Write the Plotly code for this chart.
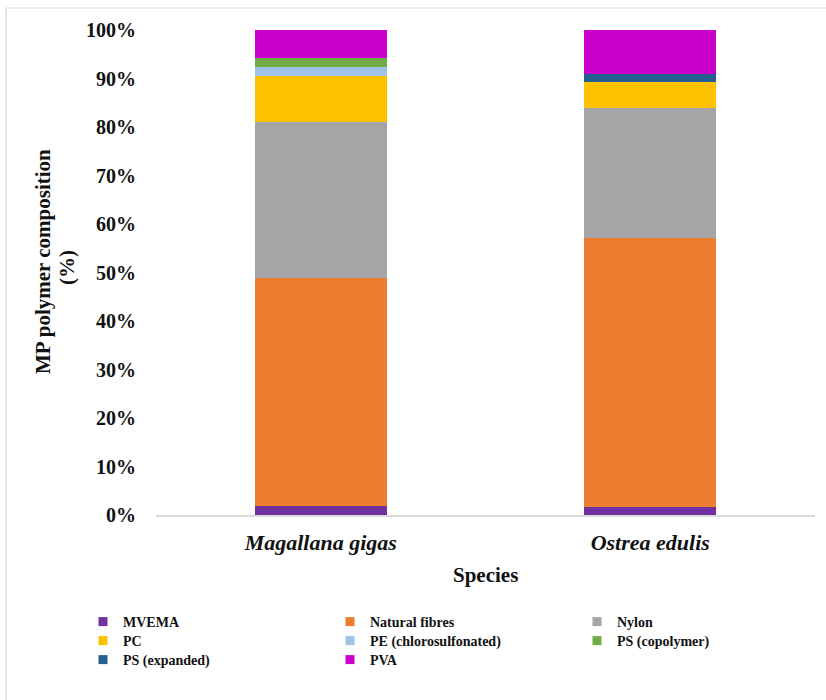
import plotly.graph_objects as go

# Polymer composition (%) of microplastics found in each oyster species
species = ["Magallana gigas", "Ostrea edulis"]
polymers = ["MVEMA", "Natural fibres", "Nylon", "PC", "PE (chlorosulfonated)",
            "PS (copolymer)", "PS (expanded)", "PVA"]
mvema = [1.8, 1.7]
natural_fibres = [47.1, 55.4]
nylon = [32.2, 26.8]
pc = [9.4, 5.3]
pe_chloro = [1.9, 0.0]
ps_copolymer = [1.8, 0.0]
ps_expanded = [0.0, 1.8]
pva = [5.8, 9.0]
y_ticks = list(range(0, 101, 10))

series = [mvema, natural_fibres, nylon, pc, pe_chloro, ps_copolymer, ps_expanded, pva]
colors = ["#7030A0", "#ED7D31", "#A5A5A5", "#FFC000", "#9DC3E6",
          "#70AD47", "#255E91", "#CC00CC"]
# three legend rows, three entries per row
legend_rows = ["legend", "legend", "legend", "legend2", "legend2", "legend2",
               "legend3", "legend3"]

W, H = 826, 700
L, R, T, B = 156, 11, 30, 185
pw, ph = W - L - R, H - T - B

SERIF = "Liberation Serif"


def px_x(x):
    return (x - L) / pw


def px_y(y):
    return (T + ph - y) / ph


fig = go.Figure()
for name, vals, col in zip(polymers, series, colors):
    fig.add_trace(go.Bar(x=species, y=vals, name=name, marker_color=col,
                         marker_line_width=0, showlegend=False))

# legend entries with small square swatches
for name, col, lg in zip(polymers, colors, legend_rows):
    fig.add_trace(go.Scatter(x=[None], y=[None], mode="markers", name=name,
                             marker=dict(symbol="square", size=9, color=col),
                             legend=lg, showlegend=True))

legend_font = dict(family=SERIF, size=14, color="#111111", weight="bold")
row_y = [622, 641, 660]
legend_common = dict(orientation="h", xref="paper", yref="paper",
                     x=px_x(83), xanchor="left", yanchor="middle",
                     entrywidth=202, entrywidthmode="pixels",
                     font=legend_font, bgcolor="rgba(0,0,0,0)",
                     traceorder="normal", itemclick=False)

fig.update_layout(
    width=W, height=H,
    margin=dict(l=L, r=R, t=T, b=B),
    paper_bgcolor="white", plot_bgcolor="white",
    barmode="stack", bargap=0.6,
    font=dict(family=SERIF, color="#111111"),
    legend=dict(**legend_common, y=px_y(row_y[0])),
    legend2=dict(**legend_common, y=px_y(row_y[1])),
    legend3=dict(**legend_common, y=px_y(row_y[2])),
    xaxis=dict(
        showline=True, linecolor="#D9D9D9", linewidth=1.5,
        showgrid=False, zeroline=False, ticks="",
        tickfont=dict(family=SERIF, size=22, color="#111111",
                      weight="bold", style="italic"),
        ticklabelstandoff=7,
    ),
    yaxis=dict(
        range=[0, 100], tickvals=y_ticks,
        ticktext=[f"{v}%" for v in y_ticks],
        showline=False, showgrid=False, zeroline=False, ticks="",
        tickfont=dict(family=SERIF, size=20, color="#111111", weight="bold"),
        ticklabelstandoff=19,
    ),
)

# axis titles
title_font = dict(family=SERIF, size=21, color="#111111", weight="bold")
fig.add_annotation(text="Species", xref="paper", yref="paper",
                   x=0.5, y=px_y(575), xanchor="center",
                   yanchor="middle", showarrow=False, font=title_font)
fig.add_annotation(text="MP polymer composition", xref="paper", yref="paper",
                   x=px_x(43), y=px_y(262), textangle=-90,
                   xanchor="center", yanchor="middle", showarrow=False,
                   font=title_font)
fig.add_annotation(text="(%)", xref="paper", yref="paper",
                   x=px_x(67), y=px_y(268), textangle=-90,
                   xanchor="center", yanchor="middle", showarrow=False,
                   font=title_font)

# light frame around the chart area
fig.add_shape(type="rect", xref="paper", yref="paper",
              x0=px_x(6), x1=px_x(W + 4),
              y0=px_y(H + 5), y1=px_y(8),
              line=dict(color="#D9D9D9", width=1.2), fillcolor="rgba(0,0,0,0)",
              layer="below")

fig.write_html("out.html")
